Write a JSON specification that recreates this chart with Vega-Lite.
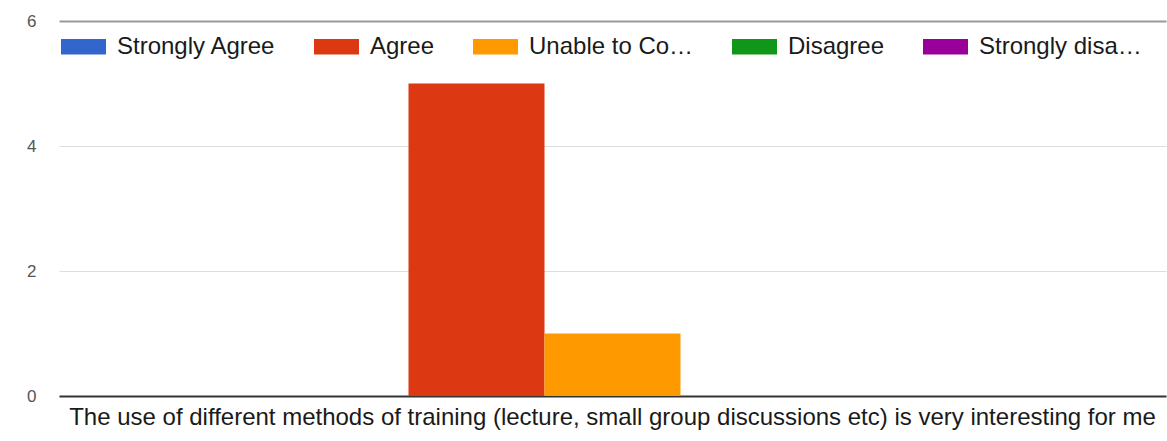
{
  "$schema": "https://vega.github.io/schema/vega-lite/v6.json",
  "width": 1107,
  "height": 375,
  "autosize": {"type": "none"},
  "padding": {"left": 59, "top": 21, "right": 1, "bottom": 45},
  "background": "white",
  "config": {
    "font": "Liberation Sans",
    "view": {"stroke": null}
  },
  "data": {
    "values": [
      {"question": "The use of different methods of training (lecture, small group discussions etc) is very interesting for me", "response": "Strongly Agree", "count": 0},
      {"question": "The use of different methods of training (lecture, small group discussions etc) is very interesting for me", "response": "Agree", "count": 5},
      {"question": "The use of different methods of training (lecture, small group discussions etc) is very interesting for me", "response": "Unable to Comment", "count": 1},
      {"question": "The use of different methods of training (lecture, small group discussions etc) is very interesting for me", "response": "Disagree", "count": 0},
      {"question": "The use of different methods of training (lecture, small group discussions etc) is very interesting for me", "response": "Strongly disagree", "count": 0}
    ]
  },
  "mark": {"type": "bar"},
  "encoding": {
    "x": {
      "field": "question",
      "type": "nominal",
      "scale": {"paddingInner": 0, "paddingOuter": 0.314},
      "axis": {
        "title": null,
        "labelAngle": 0,
        "labelFontSize": 24,
        "labelColor": "#1a1a1a",
        "labelLimit": 2000,
        "labelPadding": 9,
        "ticks": false,
        "domainColor": "#333333",
        "domainWidth": 2
      }
    },
    "xOffset": {
      "field": "response",
      "type": "nominal",
      "sort": ["Strongly Agree", "Agree", "Unable to Comment", "Disagree", "Strongly disagree"],
      "scale": {"paddingInner": 0, "paddingOuter": 0}
    },
    "y": {
      "field": "count",
      "type": "quantitative",
      "scale": {"domain": [0, 6], "nice": false},
      "axis": {
        "title": null,
        "values": [0, 2, 4, 6],
        "ticks": false,
        "domain": false,
        "labelFontSize": 17,
        "labelColor": "#555555",
        "labelPadding": 23,
        "gridColor": {"condition": {"test": "datum.value === 6", "value": "#9a9a9a"}, "value": "#dddddd"},
        "gridWidth": {"condition": {"test": "datum.value === 6", "value": 2}, "value": 1}
      }
    },
    "color": {
      "field": "response",
      "type": "nominal",
      "sort": ["Strongly Agree", "Agree", "Unable to Comment", "Disagree", "Strongly disagree"],
      "scale": {
        "domain": ["Strongly Agree", "Agree", "Unable to Comment", "Disagree", "Strongly disagree"],
        "range": ["#3366cc", "#dc3912", "#ff9900", "#109618", "#990099"]
      },
      "legend": {
        "title": null,
        "orient": "none",
        "legendX": 2,
        "legendY": 3,
        "direction": "horizontal",
        "columns": 5,
        "columnPadding": 38,
        "symbolType": "M-1,-0.34L1,-0.34L1,0.34L-1,0.34Z",
        "symbolSize": 2025,
        "symbolStrokeWidth": 0,
        "labelFontSize": 24,
        "labelColor": "#1a1a1a",
        "labelOffset": 11,
        "labelLimit": 300,
        "labelExpr": "datum.label == 'Unable to Comment' ? 'Unable to Co…' : datum.label == 'Strongly disagree' ? 'Strongly disa…' : datum.label"
      }
    }
  }
}
